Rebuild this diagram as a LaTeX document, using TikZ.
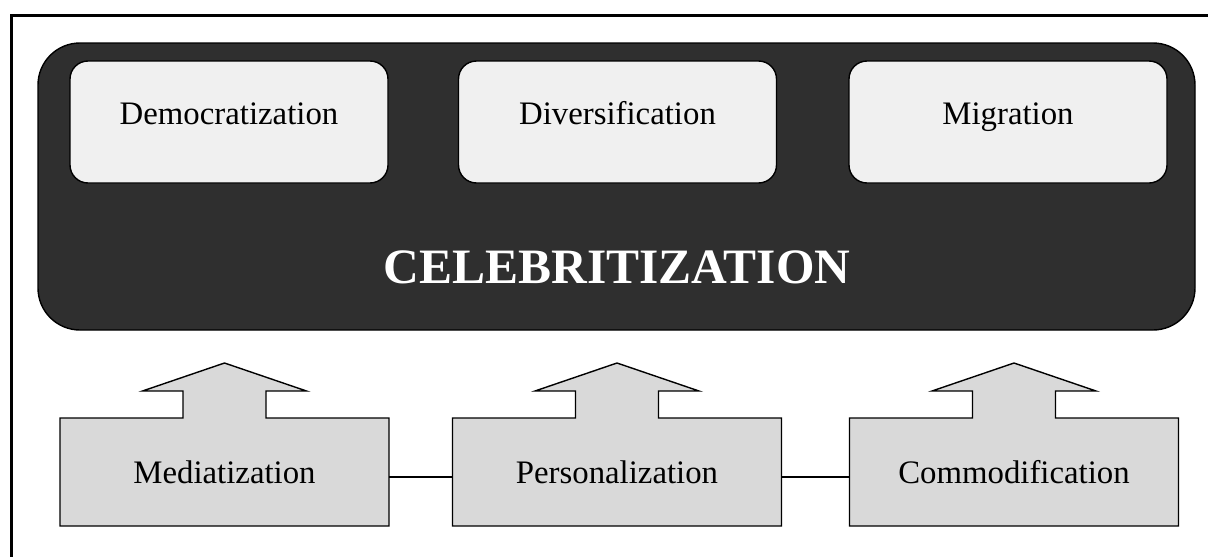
\documentclass[tikz,border=0pt]{standalone}
\usepackage{fontspec}
\setmainfont{Liberation Serif}
\definecolor{darkbg}{HTML}{2F2F2F}
\definecolor{lightbox}{HTML}{F0F0F0}
\definecolor{greybox}{HTML}{D9D9D9}
\begin{document}
\begin{tikzpicture}[x=1pt,y=-1pt,
  topbox/.style={draw=black,line width=1.4pt,fill=lightbox,rounded corners=18pt,minimum width=318pt,minimum height=122pt,inner sep=0pt},
  toplabel/.style={font=\fontsize{32.8}{38}\selectfont,anchor=base},
  basebox/.style={draw=none,minimum width=329pt,minimum height=108pt,inner sep=0pt},
  baselabel/.style={font=\fontsize{32.8}{38}\selectfont,anchor=base},
  arrowshape/.style={draw=black,line width=1.4pt,fill=greybox,line join=miter},
  conn/.style={draw=black,line width=1.8pt}]
\useasboundingbox (0,0) rectangle (1208,557);
% outer frame (only top and left visible)
\draw[line width=3pt] (11,560) -- (11,15) -- (1212,15);
% dark background
\node[draw=black,line width=1.4pt,fill=darkbg,rounded corners=42pt,minimum width=1157pt,minimum height=287pt,inner sep=0pt] (celeb) at (616.5,186.5) {};
\node[font=\fontsize{49.5}{58}\selectfont\bfseries,text=white,anchor=base] (celebtxt) at (617,283) {CELEBRITIZATION};
% top boxes
\node[topbox] (dem) at (229,122) {};
\node[toplabel] (demtxt) at (229,124) {Democratization};
\node[topbox] (div) at (617.5,122) {};
\node[toplabel] (divtxt) at (617.5,124) {Diversification};
\node[topbox] (mig) at (1008,122) {};
\node[toplabel] (migtxt) at (1008,124) {Migration};
% bottom arrow boxes
\foreach \cx/\nm/\txt in {224.5/med/Mediatization,617/per/Personalization,1014/com/Commodification}{
  \path[arrowshape] (\cx-164.5,526) -- (\cx-164.5,418) -- (\cx-41.5,418) -- (\cx-41.5,391) -- (\cx-82,391) -- (\cx,363) -- (\cx+82,391) -- (\cx+41.5,391) -- (\cx+41.5,418) -- (\cx+164.5,418) -- (\cx+164.5,526) -- cycle;
  \node[basebox] (\nm) at (\cx,472) {};
  \node[baselabel] (\nm txt) at (\cx,483) {\txt};
}
\draw[conn] ([yshift=-5pt]med.east) -- ([yshift=-5pt]per.west);
\draw[conn] ([yshift=-5pt]per.east) -- ([yshift=-5pt]com.west);
\end{tikzpicture}
\end{document}
